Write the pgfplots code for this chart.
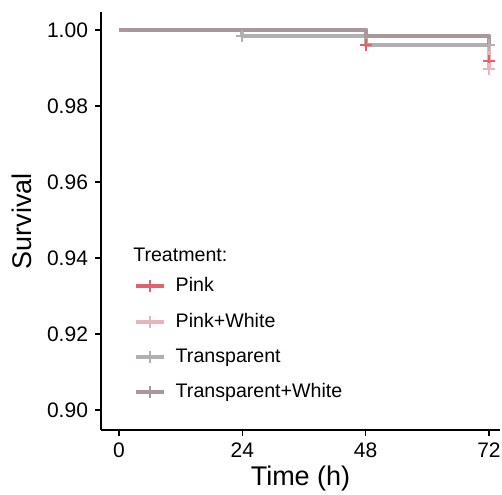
\documentclass[border=0pt]{standalone}
\usepackage{fontspec}
\setmainfont{Liberation Sans}
\usepackage{pgfplots}
\pgfplotsset{compat=1.18}

\definecolor{cPink}{HTML}{E2616D}
\definecolor{cPinkW}{HTML}{E8B4BB}
\definecolor{cTrans}{HTML}{B3AEB1}
\definecolor{cTransW}{HTML}{AA9799}

\begin{document}
\begin{tikzpicture}
\path[use as bounding box] (-50.5pt,-32pt) rectangle (200.5pt,215pt);
\begin{axis}[
    scale only axis,
    width=199.5pt, height=209pt,
    xmin=-3.5, xmax=74.15,
    ymin=0.8947, ymax=1.0047,
    axis x line=bottom, axis y line=left,
    axis line style={-, line width=0.9pt},
    xtick={0,24,48,72},
    ytick={0.90,0.92,0.94,0.96,0.98,1.00},
    yticklabel style={/pgf/number format/fixed, /pgf/number format/fixed zerofill, /pgf/number format/precision=2},
    /pgf/number format/assume math mode=true,
    tick align=outside,
    major tick length=3pt,
    tick style={line width=0.8pt, black},
    ticklabel style={font=\fontsize{10.5}{12}\selectfont},
    xlabel={Time (h)},
    ylabel={Survival},
    label style={font=\fontsize{13.5}{15}\selectfont},
    xlabel style={yshift=3pt},
    ylabel style={yshift=1pt},
    legend style={at={(axis description cs:0.066,0.385)}, anchor=north west,
        draw=none, fill=none, font=\fontsize{9.8}{11}\selectfont, row sep=5.2pt},
    legend cell align=left,
    legend image code/.code={
        \path[draw=none] (0pt,0pt) -- (18pt,0pt);
        \draw[#1, line cap=butt] (0pt,0pt) -- (14pt,0pt);
        \draw[#1, line width=0.8pt] (7pt,-3pt) -- (7pt,3pt);
    },
    every axis plot/.append style={line join=round},
]
% step curves
\addplot[const plot, color=cPink, line width=2pt] coordinates {(0,1.0)(48,0.9961)(72,0.9919)};
\addlegendentry{Pink}
\addplot[const plot, color=cPinkW, line width=2pt] coordinates {(0,1.0)(48,0.9984)(72,0.9898)};
\addlegendentry{Pink+White}
\addplot[const plot, color=cTrans, line width=2pt] coordinates {(0,1.0)(24,0.9984)(48,0.9961)(72,0.9961)};
\addlegendentry{Transparent}
\addplot[const plot, color=cTransW, line width=2pt] coordinates {(0,1.0)(48,0.9984)(72,0.9961)};
\addlegendentry{Transparent+White}
% censor marks
\addplot[only marks, mark=+, mark size=3pt, color=cPink, line width=0.9pt, forget plot] coordinates {(48,0.9961)(72,0.9919)};
\addplot[only marks, mark=+, mark size=3pt, color=cPinkW, line width=0.9pt, forget plot] coordinates {(72,0.9898)};
\addplot[only marks, mark=+, mark size=3pt, color=cTrans, line width=0.9pt, forget plot] coordinates {(24,0.9984)(72,0.9961)};
\node[anchor=west, font=\fontsize{9.8}{11}\selectfont, inner sep=0pt] at (axis description cs:0.08,0.419) {Treatment:};
\end{axis}
\end{tikzpicture}
\end{document}
